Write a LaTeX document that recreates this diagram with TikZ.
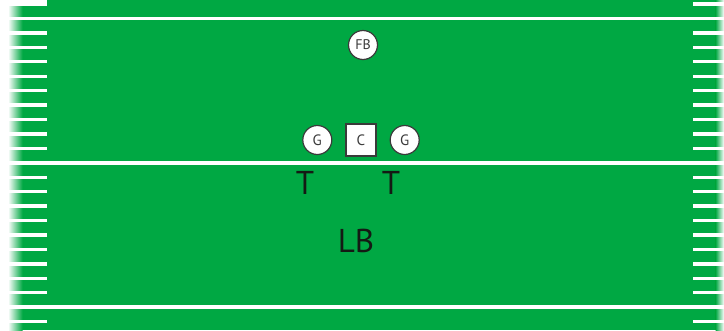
\documentclass[tikz,border=0pt]{standalone}
\usepackage{fontspec}
\newfontfamily\fieldfont{PT Sans}
\usepackage{tikz}
\usetikzlibrary{positioning}
\usepackage{xcolor}
\definecolor{turfgreen}{HTML}{00A843}
\definecolor{chalkgray}{HTML}{3A3A3A}
\definecolor{defink}{HTML}{141A14}
\tikzset{
  offplayer/.style={
    circle,
    draw=chalkgray,
    fill=white,
    line width=1.2pt,
    minimum size=29pt,
    inner sep=0pt,
    text=chalkgray,
    font=\fieldfont\fontsize{15}{15}\selectfont
  },
  snapbox/.style={offplayer, rectangle, minimum width=30pt, minimum height=32pt},
  defplayer/.style={inner sep=0pt, text=defink, font=\fieldfont\fontsize{33}{33}\selectfont},
  yardline/.style={draw=white, line width=3.6pt},
  hashmark/.style={draw=white, line width=3.4pt}
}

\begin{document}
\begin{tikzpicture}[x=1pt, y=-1pt]
\useasboundingbox (0,0) rectangle (724,330);
% field
\fill[turfgreen] (22,0) rectangle (716,330);
\shade[left color=white, right color=turfgreen] (8,0) rectangle (22.5,330);
\shade[left color=turfgreen, right color=white] (715.5,0) rectangle (724,330);
\fill[white] (0,0) rectangle (47,2);
% hash marks
\foreach \k in {-1,...,21} {
  \draw[hashmark] (8,18.5+14.43*\k) -- (47,18.5+14.43*\k);
  \draw[hashmark] (693,18.5+14.43*\k) -- (724,18.5+14.43*\k);
}
% yard lines
\foreach \k in {0,10,20}
  \draw[yardline] (8,18.5+14.43*\k) -- (724,18.5+14.43*\k);
% offense
\node[snapbox] (c) at (361,140) {C};
\node[offplayer, left=13pt of c] (gl) {G};
\node[offplayer, right=13pt of c] (gr) {G};
\node[offplayer, font=\fieldfont\fontsize{14}{14}\selectfont] (fb) at (363,45) {FB};
% defense
\node[defplayer] (tl) at (305,183) {T};
\node[defplayer] (tr) at (391,183) {T};
\node[defplayer] (lb) at (356,241) {LB};
\end{tikzpicture}
\end{document}
